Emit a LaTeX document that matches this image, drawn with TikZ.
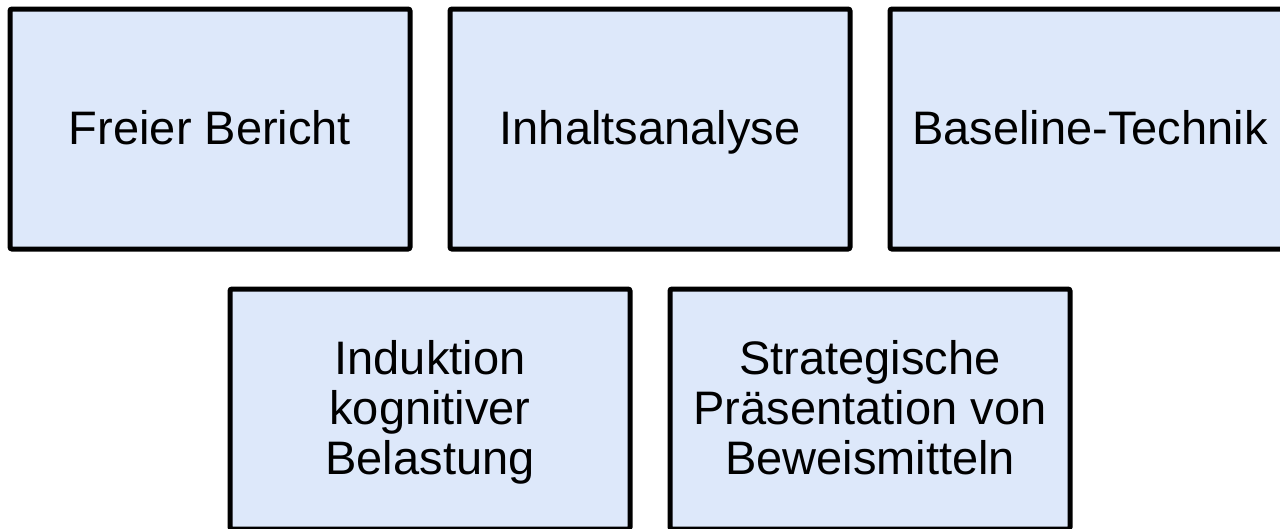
\documentclass[tikz,border=0pt]{standalone}
\usepackage{fontspec}
\setmainfont{Liberation Sans}
\definecolor{boxfill}{RGB}{221,232,250}
\newcommand\mytopstr{\rule{0pt}{42pt}}
\newcommand\mybotstr{\rule[-12pt]{0pt}{12pt}}
\begin{document}
\begin{tikzpicture}[x=1pt,y=-1pt,
  box/.style={draw=black, fill=boxfill, line width=5pt, rounded corners=2pt,
    minimum width=400pt, minimum height=240pt, inner sep=0pt, align=center,
    font=\fontsize{47}{50}\selectfont, text=black}]
\useasboundingbox (0,0) rectangle (1280,528);
\clip (0,0) rectangle (1280,528);
\node[box] (fb) at (210,129) {\mytopstr\mybotstr Freier Bericht};
\node[box] (ia) at (650,129) {\mytopstr\mybotstr Inhaltsanalyse};
\node[box] (bt) at (1090,129) {\mytopstr\mybotstr Baseline-Technik};
\node[box] (ik) at (430,409) {\mytopstr Induktion\\kognitiver\\\mybotstr Belastung};
\node[box] (sp) at (870,409) {\mytopstr Strategische\\Präsentation von\\\mybotstr Beweismitteln};
\end{tikzpicture}
\end{document}
